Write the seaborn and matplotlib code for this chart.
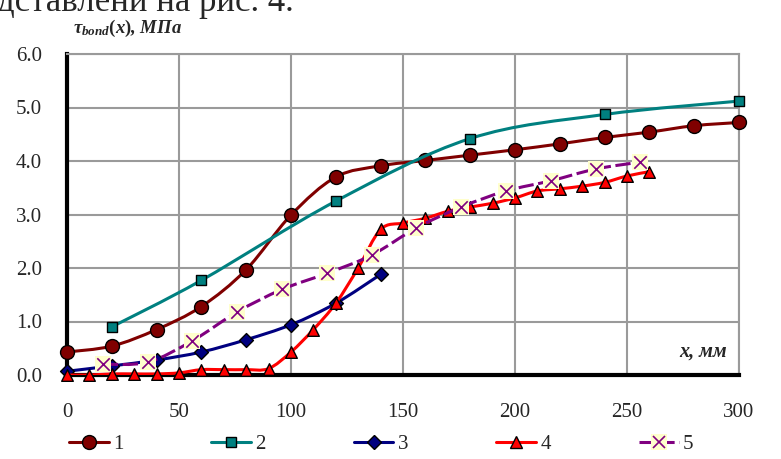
import matplotlib
matplotlib.use("Agg")
import matplotlib.pyplot as plt
from matplotlib.path import Path
from matplotlib.patches import PathPatch
from matplotlib.lines import Line2D
from matplotlib.legend_handler import HandlerTuple
import seaborn as sns

# curve 1
x1 = [0, 20, 40, 60, 80, 100, 120, 140, 160, 180, 200, 220, 240, 260, 280, 300]
y1 = [0.43, 0.54, 0.85, 1.28, 1.97, 2.99, 3.70, 3.91, 4.01, 4.11, 4.21, 4.32, 4.44, 4.54, 4.66, 4.72]
# curve 2
x2 = [20, 60, 120, 180, 240, 300]
y2 = [0.90, 1.77, 3.25, 4.42, 4.87, 5.12]
# curve 3
x3 = [0, 20, 40, 60, 80, 100, 120, 140]
y3 = [0.07, 0.17, 0.28, 0.43, 0.66, 0.94, 1.34, 1.88]
# curve 4
x4 = [0, 10, 20, 30, 40, 50, 60, 70, 80, 90, 100, 110, 120, 130, 140,
      150, 160, 170, 180, 190, 200, 210, 220, 230, 240, 250, 260]
y4 = [0.0, 0.0, 0.02, 0.02, 0.02, 0.04, 0.1, 0.1, 0.1, 0.12, 0.43, 0.85, 1.34, 2.0, 2.72,
      2.84, 2.93, 3.06, 3.14, 3.21, 3.31, 3.44, 3.48, 3.53, 3.6, 3.72, 3.8]
# curve 5
x5 = [16, 36, 56, 76, 96, 116, 136, 156, 176, 196, 216, 236, 256]
y5 = [0.2, 0.24, 0.64, 1.18, 1.6, 1.9, 2.24, 2.75, 3.14, 3.44, 3.63, 3.85, 3.98]

labels = ["1", "2", "3", "4", "5"]
xticks = [0, 50, 100, 150, 200, 250, 300]
yticks = [0, 1, 2, 3, 4, 5, 6]

sns.set_style("white")
plt.rcParams["font.family"] = ["Liberation Serif", "DejaVu Serif"]
plt.rcParams["mathtext.fontset"] = "custom"
plt.rcParams["mathtext.it"] = "Liberation Serif:italic:bold"
plt.rcParams["mathtext.rm"] = "Liberation Serif:bold"


def smooth_path(xs, ys):
    # excel-like smoothed line (catmull-rom bezier)
    pts = list(zip(xs, ys))
    n = len(pts)
    verts = [pts[0]]
    codes = [Path.MOVETO]
    for i in range(n - 1):
        p0 = pts[i - 1] if i > 0 else pts[i]
        p1 = pts[i]
        p2 = pts[i + 1]
        p3 = pts[i + 2] if i + 2 < n else pts[i + 1]
        c1 = (p1[0] + (p2[0] - p0[0]) / 6, p1[1] + (p2[1] - p0[1]) / 6)
        c2 = (p2[0] - (p3[0] - p1[0]) / 6, p2[1] - (p3[1] - p1[1]) / 6)
        verts += [c1, c2, p2]
        codes += [Path.CURVE4] * 3
    return Path(verts, codes)


fig = plt.figure(figsize=(7.81, 4.59), dpi=100)
ax = fig.add_axes([67 / 781, 1 - 375 / 459, 672 / 781, 321 / 459])

series = [
    (x1, y1, "#800000", "o", 100),
    (x2, y2, "#008080", "s", 55),
    (x3, y3, "#000080", "D", 50),
    (x4, y4, "#ff0000", "^", 70),
]
z = 3
for xs, ys, c, m, s in series:
    ax.add_patch(PathPatch(smooth_path(xs, ys), fill=False, edgecolor=c, lw=2.2,
                           zorder=z, capstyle="round"))
    sns.scatterplot(x=xs, y=ys, ax=ax, marker=m, s=s, color=c, edgecolor="black",
                    linewidth=1, zorder=z + 0.5, clip_on=False)
    z += 1

dash5 = (0, (5, 1.5))
ax.add_patch(PathPatch(smooth_path(x5, y5), fill=False, edgecolor="#800080", lw=2.2,
                       linestyle=dash5, zorder=z))
sns.scatterplot(x=x5, y=y5, ax=ax, marker="s", s=120, color="#ffffcc", linewidth=0,
                zorder=z + 0.3)
sns.scatterplot(x=x5, y=y5, ax=ax, marker="x", s=80, color="#800080", linewidth=1.2,
                zorder=z + 0.6)

ax.set_xlim(0, 300)
ax.set_ylim(0, 6)
ax.set_xticks(xticks)
ax.set_yticks(yticks)
ax.set_yticklabels([f"{v:.1f}" for v in yticks])
ax.grid(True, color="#9a9a9a", lw=1.5)
ax.set_axisbelow(True)
for side in ["top", "right"]:
    ax.spines[side].set_color("#9a9a9a")
    ax.spines[side].set_linewidth(1.5)
for side in ["left", "bottom"]:
    ax.spines[side].set_color("black")
    ax.spines[side].set_linewidth(3)
ax.tick_params(axis="both", which="major", direction="out", length=7, width=2.5,
               color="black", labelsize=15)
ax.tick_params(axis="y", pad=11)
ax.tick_params(axis="x", pad=13)

ax.text(0.982, 0.072, "x, мм", transform=ax.transAxes, ha="right", va="center",
        fontsize=14.5, fontweight="bold", fontstyle="italic")
fig.text(73 / 781, 1 - 28 / 459, r"$\tau_{bond}(x)$, МПа", ha="left", va="center",
         fontsize=13.5, fontweight="bold", fontstyle="italic")
# partly cut line of document text above the chart
fig.text(-0.004, 1 - 11 / 459, "дставлени на рис. 4.", ha="left", va="baseline",
         fontsize=25)

handles = []
for xs, ys, c, m, s in series:
    handles.append(Line2D([], [], color=c, lw=2.2, marker=m, markersize=s ** 0.5,
                          markerfacecolor=c, markeredgecolor="black", markeredgewidth=1))
h5a = Line2D([], [], color="#800080", lw=2.2, linestyle=dash5)
h5b = Line2D([], [], lw=0, marker="s", markersize=11, markerfacecolor="#ffffcc",
             markeredgewidth=0)
h5c = Line2D([], [], lw=0, marker="x", markersize=9, markeredgecolor="#800080",
             markeredgewidth=1.2)
handles.append((h5a, h5b, h5c))

fig.legend(handles, labels, loc="center", bbox_to_anchor=(0.488, 1 - 444 / 459),
           ncol=5, frameon=False, fontsize=15, handlelength=1.9, handletextpad=0.2,
           columnspacing=4.24, handler_map={tuple: HandlerTuple(ndivide=1, pad=0)})

fig.savefig("out.png", dpi=100)
